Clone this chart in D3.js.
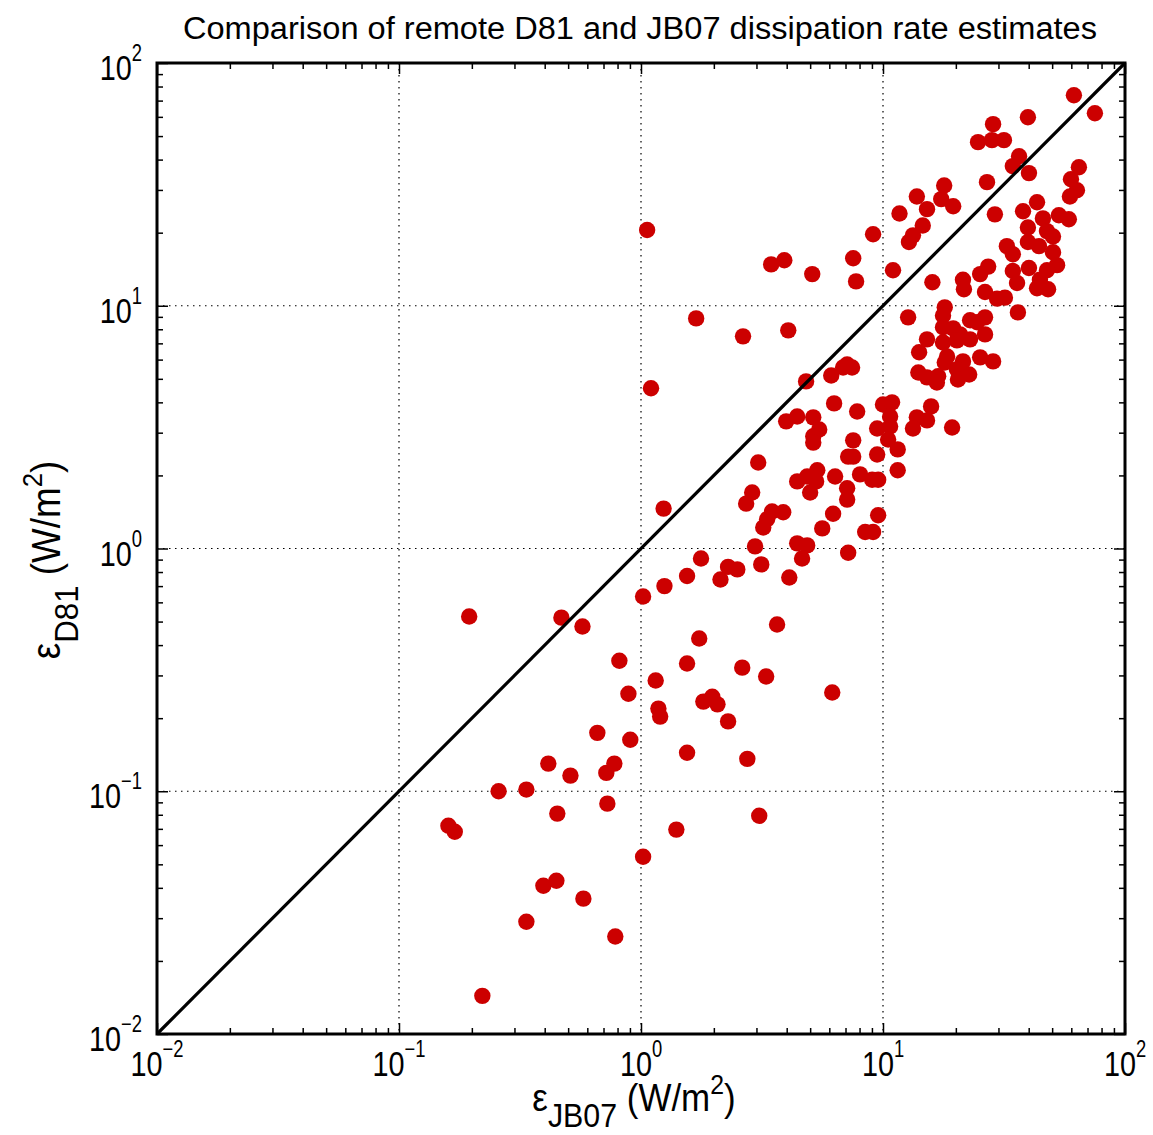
<!DOCTYPE html>
<html>
<head>
<meta charset="utf-8">
<script src="https://cdn.jsdelivr.net/npm/d3@7"></script>
<style>
  html, body { margin: 0; padding: 0; background: #fff; }
  svg { display: block; }
</style>
</head>
<body>
<div id="chart"></div>
<script>
// ---- data ----
const titleText = "Comparison of remote D81 and JB07 dissipation rate estimates";
const tickPowers = [-2, -1, 0, 1, 2];
const gridValues = [0.1, 1, 10];

// epsilon_JB07 (x) in W/m^2
const jb07 = [
  61.5,75.1,39.7,28.5,24.7,28.2,31.6,36.5,34.4,40.1,64.5,59.8,63.3,59.2,26.9,17.9,13.8,17.4,15.2,19.5,
  11.7,29.0,14.6,13.3,12.8,37.9,43.3,45.8,53.3,58.6,39.7,47.6,50.4,39.7,44.1,50.4,32.5,34.4,52.4,40.1,
  47.6,44.5,43.3,48.1,34.4,35.8,27.2,25.2,21.4,21.6,16.0,11.0,26.4,29.6,31.9,18.0,36.1,
  12.7,17.7,19.5,22.9,26.4,24.5,20.8,22.9,26.4,15.2,17.7,20.2,14.1,18.4,18.0,21.4,25.2,28.5,14.0,15.2,
  16.9,16.7,20.2,20.4,22.7,17.7,
  10.0,10.9,10.7,10.7,9.46,10.5,11.5,9.46,11.5,13.8,15.8,15.2,13.3,19.3,
  7.11,7.45,6.84,6.11,4.81,6.28,7.82,3.98,4.42,5.15,5.45,5.15,5.15,7.53,7.18,7.53,3.05,5.35,4.86,4.42,
  5.29,5.00,6.34,8.04,9.02,9.55,7.11,7.11,2.88,2.72,3.48,3.87,3.32,3.20,6.22,9.55,5.61,8.44,9.10,2.96,
  4.42,4.86,4.63,7.18,3.14,2.29,2.50,2.13,4.10,1.77,
  1.55,1.25,1.02,3.65,1.74,0.814,1.55,2.62,3.29,1.15,0.887,6.17,1.81,1.97,2.07,1.18,1.20,2.29,0.195,0.469,
  0.573,0.660,0.903,1.55,2.75,0.414,0.511,0.776,0.719,0.258,0.336,0.726,0.451,0.160,0.170,1.40,3.08,1.02,0.395,0.447,
  0.578,0.336,0.783,0.221,
  1.06,3.45,3.91,5.10,7.53,7.74,9.10,1.69,2.64,4.06,1.10,1.24
];
// epsilon_D81 (y) in W/m^2
const d81 = [
  73.6,62.1,59.8,56.0,47.2,48.1,48.1,41.3,37.6,35.2,37.2,33.2,29.9,28.2,32.3,31.3,28.2,27.5,25.0,25.7,
  24.0,23.8,21.4,19.5,18.3,24.5,26.7,22.9,23.6,22.7,21.0,20.3,19.3,18.3,17.6,16.6,17.6,16.3,14.7,14.3,
  14.0,12.8,11.8,11.7,13.9,12.4,14.5,13.5,12.8,11.7,12.5,14.0,11.4,10.7,10.8,9.85,9.39,
  8.96,8.15,8.07,8.71,8.96,8.55,7.62,7.27,7.62,7.27,7.06,7.20,6.43,6.18,5.84,5.90,6.13,5.90,5.31,5.07,
  5.12,4.83,5.47,4.97,5.21,9.12,
  3.92,4.00,3.50,3.18,3.12,2.81,2.56,2.44,2.10,3.47,3.85,3.37,3.12,3.15,
  5.73,5.57,5.57,5.16,4.88,3.96,3.67,3.34,3.50,3.47,3.09,2.90,2.73,2.79,2.39,2.39,2.26,2.10,1.98,1.89,
  1.89,1.70,1.98,2.02,1.92,1.92,1.77,1.59,1.70,1.53,1.42,1.41,1.32,1.22,1.39,1.37,1.21,1.17,1.17,1.02,
  1.05,1.03,0.91,0.96,0.86,0.84,0.82,0.745,0.76,0.91,
  0.77,0.70,0.634,0.486,0.426,0.345,0.336,0.323,0.297,0.286,0.252,0.255,0.234,0.245,0.228,0.219,0.203,0.194,0.525,0.519,
  0.477,0.174,0.163,0.144,0.136,0.130,0.116,0.130,0.119,0.100,0.1016,0.0889,0.0809,0.0721,0.0681,0.0695,0.0793,0.0537,0.0408,0.0428,
  0.0361,0.0290,0.0252,0.01436,
  20.5,14.8,15.4,13.5,15.7,12.6,19.7,8.87,7.48,7.92,4.57,1.46
];
const oneToOne = [0.01, 100];

// ---- layout ----
const W = 1153, H = 1135;
const L = 157, R = 1125, T = 63, B = 1034;
const FONT = "'Liberation Sans', Arial, Helvetica, sans-serif";

const svg = d3.select("#chart").append("svg")
  .attr("width", W).attr("height", H)
  .style("font-family", FONT);

const xs = d3.scaleLog().domain([0.01, 100]).range([L, R]);
const ys = d3.scaleLog().domain([0.01, 100]).range([B, T]);

const majors = tickPowers.map(p => Math.pow(10, p));
const minors = [];
for (let p = -2; p < 2; p++) for (let m = 2; m <= 9; m++) minors.push(m * Math.pow(10, p));

// grid (dotted)
const grid = svg.append("g");
grid.selectAll("line.gx").data(gridValues).join("line")
  .attr("x1", d => xs(d)).attr("x2", d => xs(d)).attr("y1", T).attr("y2", B)
  .attr("stroke", "#000").attr("stroke-width", 1.2).attr("stroke-dasharray", "1.5,4.5");
grid.selectAll("line.gy").data(gridValues).join("line")
  .attr("y1", d => ys(d)).attr("y2", d => ys(d)).attr("x1", L).attr("x2", R)
  .attr("stroke", "#000").attr("stroke-width", 1.2).attr("stroke-dasharray", "1.5,4.5");

// axes ticks (inward)
function addAxis(axisFn, scale, transform, vals, size) {
  const g = svg.append("g").attr("transform", transform)
    .call(axisFn(scale).tickValues(vals).tickSize(-size).tickFormat(""));
  g.select(".domain").remove();
  g.selectAll(".tick line").attr("stroke", "#000").attr("stroke-width", 1.5);
}
addAxis(d3.axisBottom, xs, `translate(0,${B})`, minors, 6);
addAxis(d3.axisBottom, xs, `translate(0,${B})`, majors, 11);
addAxis(d3.axisTop, xs, `translate(0,${T})`, minors, 6);
addAxis(d3.axisTop, xs, `translate(0,${T})`, majors, 11);
addAxis(d3.axisLeft, ys, `translate(${L},0)`, minors, 6);
addAxis(d3.axisLeft, ys, `translate(${L},0)`, majors, 11);
addAxis(d3.axisRight, ys, `translate(${R},0)`, minors, 6);
addAxis(d3.axisRight, ys, `translate(${R},0)`, majors, 11);

// points
const pts = jb07.map((x, i) => ({ x, y: d81[i] }));
svg.append("g").selectAll("circle").data(pts).join("circle")
  .attr("cx", d => xs(d.x)).attr("cy", d => ys(d.y)).attr("r", 8.2)
  .attr("fill", "#cc0000");

// 1:1 line
svg.append("line")
  .attr("x1", xs(oneToOne[0])).attr("y1", ys(oneToOne[0]))
  .attr("x2", xs(oneToOne[1])).attr("y2", ys(oneToOne[1]))
  .attr("stroke", "#000").attr("stroke-width", 3.2);

// frame
svg.append("rect").attr("x", L).attr("y", T).attr("width", R - L).attr("height", B - T)
  .attr("fill", "none").attr("stroke", "#000").attr("stroke-width", 3);

// tick labels (condensed look)
const SX = 0.8;
const expStr = p => (p < 0 ? "\u2212" + Math.abs(p) : String(p));
const xl = svg.append("g").selectAll("text").data(tickPowers).join("text")
  .attr("transform", p => `translate(${xs(Math.pow(10, p))},${B + 42}) scale(${SX},1)`)
  .attr("text-anchor", "middle").attr("font-size", 36);
xl.append("tspan").text("10");
xl.append("tspan").attr("font-size", 23).attr("dy", -19).text(p => expStr(p));

const yl = svg.append("g").selectAll("text").data(tickPowers).join("text")
  .attr("transform", p => `translate(142,${ys(Math.pow(10, p)) + 17}) scale(${SX},1)`)
  .attr("text-anchor", "end").attr("font-size", 36);
yl.append("tspan").text("10");
yl.append("tspan").attr("font-size", 23).attr("dy", -19).text(p => expStr(p));

// title
svg.append("text").attr("x", 640).attr("y", 39).attr("text-anchor", "middle")
  .attr("font-size", 31).attr("textLength", 914).attr("lengthAdjust", "spacingAndGlyphs")
  .text(titleText);

// x label
const xlab = svg.append("text").attr("transform", "translate(634,1111) scale(0.92,1)")
  .attr("text-anchor", "middle").attr("font-size", 38);
xlab.append("tspan").text("\u03b5");
xlab.append("tspan").attr("font-size", 33).attr("dy", 16).text("JB07");
xlab.append("tspan").attr("dy", -16).text(" (W/m");
xlab.append("tspan").attr("font-size", 27).attr("dy", -17).text("2");
xlab.append("tspan").attr("dy", 17).text(")");

// y label
const ylab = svg.append("text").attr("transform", "translate(60,560) rotate(-90) scale(0.92,1)")
  .attr("text-anchor", "middle").attr("font-size", 40);
ylab.append("tspan").text("\u03b5");
ylab.append("tspan").attr("font-size", 34).attr("dy", 18).text("D81");
ylab.append("tspan").attr("dy", -18).text(" (W/m");
ylab.append("tspan").attr("font-size", 28).attr("dy", -18).text("2");
ylab.append("tspan").attr("dy", 18).text(")");
</script>
</body>
</html>
